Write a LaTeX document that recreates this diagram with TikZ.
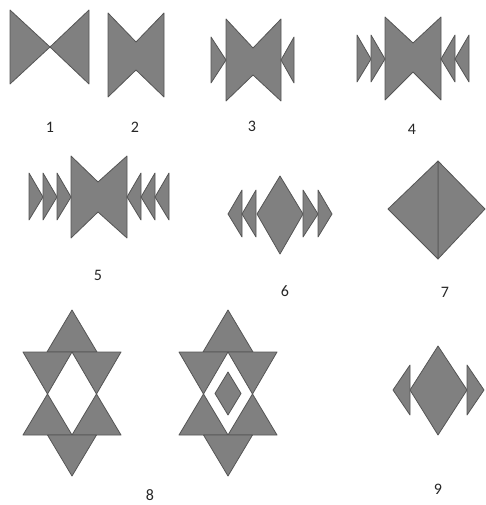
\documentclass[tikz,border=0pt]{standalone}
\usepackage{fontspec}
\setmainfont{Carlito}
\definecolor{fillg}{RGB}{128,128,128}
\definecolor{edgeg}{RGB}{85,85,85}
\tikzset{
  piece/.style={fill=fillg,draw=edgeg,line width=0.8pt,line join=round},
  lbl/.style={font=\fontsize{16}{18}\selectfont,text=black!85,inner sep=0pt}
}
\begin{document}
\begin{tikzpicture}[x=1pt,y=-1pt]
\useasboundingbox[fill=white] (0,0) rectangle (485,505);
% figure 1
\filldraw[piece] (10,10)--(50,47)--(10,84)--cycle;
\filldraw[piece] (89,10)--(50,47)--(89,84)--cycle;
% figure 2
\filldraw[piece] (108,13)--(136,42)--(164,13)--(164,97)--(136,70)--(108,97)--cycle;
% figure 3
\filldraw[piece] (226,19)--(253,48)--(281,19)--(281,101)--(253,75)--(226,101)--cycle;
\filldraw[piece] (211,37)--(226,60)--(211,83)--cycle;
\filldraw[piece] (294,37)--(281,60)--(294,83)--cycle;
% figure 4
\filldraw[piece] (385,17)--(413,43)--(441,17)--(441,100)--(413,72)--(385,100)--cycle;
\filldraw[piece] (357,35)--(371,59)--(357,82)--cycle;
\filldraw[piece] (371,35)--(385,59)--(371,82)--cycle;
\filldraw[piece] (455,35)--(441,59)--(455,82)--cycle;
\filldraw[piece] (469,35)--(455,59)--(469,82)--cycle;
% figure 5
\filldraw[piece] (71,156)--(98,182)--(127,156)--(127,238)--(98,212)--(71,238)--cycle;
\foreach \a/\b in {29/43,43/57,57/71,141/127,155/141,169/155}
  \filldraw[piece] (\a,173)--(\b,197)--(\a,220)--cycle;
% figure 6
\filldraw[piece] (280,176)--(303,214)--(280,254)--(257,214)--cycle;
\foreach \a/\b in {242/228,256/242,303/318,318/332}
  \filldraw[piece] (\a,190)--(\b,214)--(\a,237)--cycle;
% figure 7
\filldraw[piece] (438,161)--(485,209)--(438,259)--cycle;
\filldraw[piece] (438,161)--(388,209)--(438,259)--cycle;
% figure 8 (two stars)
\foreach \c in {72,228}{
  \filldraw[piece] (\c,310)--(\c+25,352)--(\c-25,352)--cycle;
  \filldraw[piece] (\c-49,352)--(\c,352)--(\c-24.5,394)--cycle;
  \filldraw[piece] (\c,352)--(\c+49,352)--(\c+24.5,394)--cycle;
  \filldraw[piece] (\c-24.5,394)--(\c,435)--(\c-49,435)--cycle;
  \filldraw[piece] (\c+24.5,394)--(\c+49,435)--(\c,435)--cycle;
  \filldraw[piece] (\c-24.5,435)--(\c+24.5,435)--(\c,476)--cycle;
}
\filldraw[piece] (228,372)--(241,393.5)--(228,415)--(215,393.5)--cycle;
% figure 9
\filldraw[piece] (438,346)--(467,390)--(438,435)--(410,390)--cycle;
\filldraw[piece] (410,365)--(393,390)--(410,415)--cycle;
\filldraw[piece] (467,365)--(484,390)--(467,415)--cycle;
% labels
\node[lbl] (l1) at (50,127) {1};
\node[lbl] (l2) at (135,127) {2};
\node[lbl] (l3) at (252,126) {3};
\node[lbl] (l4) at (412,129) {4};
\node[lbl] (l5) at (98,275) {5};
\node[lbl] (l6) at (285,291) {6};
\node[lbl] (l7) at (445,292) {7};
\node[lbl] (l8) at (150,495) {8};
\node[lbl] (l9) at (438,489) {9};
\end{tikzpicture}
\end{document}
